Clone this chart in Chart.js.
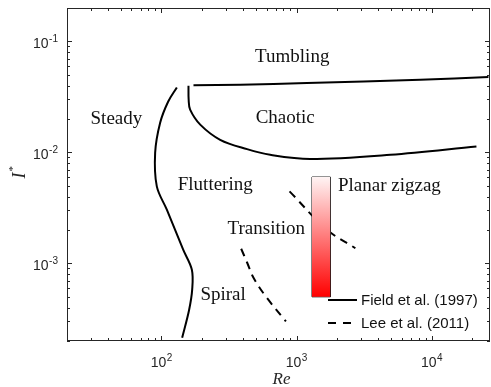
<!DOCTYPE html>
<html>
<head>
<meta charset="utf-8">
<script src="https://cdn.jsdelivr.net/npm/chart.js@4.4.0/dist/chart.umd.min.js"></script>
<style>
html, body { margin: 0; padding: 0; background: #fff; }
#wrap { width: 491px; height: 387px; }
</style>
</head>
<body>
<div id="wrap"><canvas id="regime"></canvas></div>
<script>
// Field et al. (1997) regime boundaries
const steadyRe = [130, 112, 97.8, 89.8, 92.4, 109.6, 144.8, 167.9, 168.8, 160.3, 142.3];
const steadyI = [0.0385, 0.0286, 0.0185, 0.0099, 0.00494, 0.00305, 0.00133, 0.000877, 0.00058, 0.000383, 0.000214];
const chaoticRe = [158.5, 159, 163, 193.6, 272, 430, 638, 1262, 4943, 21430];
const chaoticI = [0.0399, 0.0298, 0.0243, 0.0178, 0.013, 0.0107, 0.00952, 0.00873, 0.00952, 0.0113];
const tumblingRe = [172.6, 383, 1194, 8240, 26300];
const tumblingI = [0.0402, 0.0407, 0.0422, 0.0452, 0.0478];

// Lee et al. (2011) boundaries
const spiralRe = [389, 431, 480, 586, 834];
const spiralI = [0.001355, 0.001014, 0.000743, 0.000512, 0.0003];
const transitionRe = [887, 1679, 2723];
const transitionI = [0.00446, 0.00201, 0.00137];

// planar zigzag band
const zigzagRe = [1300, 1780];
const zigzagI = [0.0005, 0.006];

// region names
const regionNames = ["Tumbling", "Chaotic", "Steady", "Fluttering", "Transition", "Spiral", "Planar zigzag"];
const regionRe = [929, 824, 46.4, 250, 597, 286, 4863];
const regionI = [0.0728, 0.0203, 0.0201, 0.00512, 0.00206, 0.000522, 0.00501];

// axes
const reRange = [20, 27000];
const iRange = [0.0002, 0.2];
const reTickExps = [2, 3, 4];
const iTickExps = [-3, -2, -1];

const legendLabels = ["Field et al. (1997)", "Lee et al. (2011)"];

const FRAME = "#262626";
const DASH = [8, 6];

const pts = (xs, ys) => xs.map((x, i) => ({ x: x, y: ys[i] }));

function curve(label, xs, ys, dashed) {
	return {
		label: label,
		data: pts(xs, ys),
		borderColor: "#000",
		borderWidth: 2,
		borderDash: dashed ? DASH : [],
		pointRadius: 0,
		tension: 0.35,
		fill: false,
	};
}

function zigzagGradient(ctx) {
	const chart = ctx.chart;
	if (!chart.chartArea) return "rgba(255,0,0,0.5)";
	const y = chart.scales.y;
	const top = y.getPixelForValue(zigzagI[1]);
	const bot = y.getPixelForValue(zigzagI[0]);
	const g = chart.ctx.createLinearGradient(0, top, 0, bot);
	g.addColorStop(0, "#fff4f4");
	g.addColorStop(1, "#ff0000");
	return g;
}

function drawSupLabel(ctx, base, sup, x, y, align) {
	ctx.font = '14px "Liberation Sans"';
	const wb = ctx.measureText(base).width;
	ctx.font = '10px "Liberation Sans"';
	const ws = ctx.measureText(sup).width;
	const total = wb + ws + 0.5;
	let left = align === "center" ? x - total / 2 : x - total;
	ctx.textAlign = "left";
	ctx.textBaseline = "alphabetic";
	ctx.font = '14px "Liberation Sans"';
	ctx.fillText(base, left, y);
	ctx.font = '10px "Liberation Sans"';
	ctx.fillText(sup, left + wb + 0.5, y - 6);
}

const axesPlugin = {
	id: "matlabAxes",
	afterDatasetsDraw(chart) {
		const { ctx, scales } = chart;
		ctx.save();
		ctx.fillStyle = "#111";
		ctx.font = '19px "Liberation Serif"';
		ctx.textAlign = "center";
		ctx.textBaseline = "middle";
		regionNames.forEach((name, i) => {
			ctx.fillText(name, scales.x.getPixelForValue(regionRe[i]), scales.y.getPixelForValue(regionI[i]));
		});
		ctx.restore();
	},
	afterDraw(chart) {
		const { ctx, chartArea: a, scales } = chart;
		const x = scales.x, y = scales.y;
		ctx.save();
		ctx.strokeStyle = FRAME;
		ctx.lineWidth = 1;
		ctx.strokeRect(a.left + 0.5, a.top + 0.5, a.right - a.left - 1, a.bottom - a.top - 1);

		ctx.beginPath();
		// x ticks, bottom and top
		for (let d = 10; d <= 10000; d *= 10) {
			for (let m = 1; m <= 9; m++) {
				const v = m * d;
				if (v < reRange[0] || v > reRange[1]) continue;
				const px = Math.round(x.getPixelForValue(v)) + 0.5;
				const len = m === 1 ? 5 : 3;
				ctx.moveTo(px, a.bottom);
				ctx.lineTo(px, a.bottom - len);
				ctx.moveTo(px, a.top);
				ctx.lineTo(px, a.top + len);
			}
		}
		// y ticks, left and right
		for (let d = 0.0001; d <= 0.1; d *= 10) {
			for (let m = 1; m <= 9; m++) {
				const v = m * d;
				if (v < iRange[0] * 0.999 || v > iRange[1] * 1.001) continue;
				const py = Math.round(y.getPixelForValue(v)) + 0.5;
				const len = m === 1 ? 5 : 3;
				ctx.moveTo(a.left, py);
				ctx.lineTo(a.left + len, py);
				ctx.moveTo(a.right, py);
				ctx.lineTo(a.right - len, py);
			}
		}
		ctx.stroke();

		// tick labels
		ctx.fillStyle = FRAME;
		reTickExps.forEach(e => {
			drawSupLabel(ctx, "10", String(e), x.getPixelForValue(Math.pow(10, e)), a.bottom + 26, "center");
		});
		iTickExps.forEach(e => {
			drawSupLabel(ctx, "10", String(e), a.left - 9, y.getPixelForValue(Math.pow(10, e)) + 7, "right");
		});

		// axis titles
		ctx.fillStyle = "#262626";
		ctx.font = 'italic 17px "Liberation Serif"';
		ctx.textAlign = "center";
		ctx.textBaseline = "alphabetic";
		ctx.fillText("Re", (a.left + a.right) / 2 + 3, a.bottom + 43);

		ctx.save();
		ctx.translate(25, (a.top + a.bottom) / 2);
		ctx.rotate(-Math.PI / 2);
		ctx.textAlign = "left";
		ctx.font = 'italic 18px "Liberation Serif"';
		ctx.fillText("I", -4, 0);
		ctx.font = '11px "Liberation Serif"';
		ctx.fillText("*", 3, -9);
		ctx.restore();

		// legend
		const lx = a.right - 162, ly = a.bottom - 41;
		ctx.strokeStyle = "#000";
		ctx.lineWidth = 2;
		ctx.beginPath();
		ctx.moveTo(lx, ly);
		ctx.lineTo(lx + 29, ly);
		ctx.stroke();
		ctx.setLineDash([8, 7]);
		ctx.beginPath();
		ctx.moveTo(lx, ly + 23);
		ctx.lineTo(lx + 24, ly + 23);
		ctx.stroke();
		ctx.setLineDash([]);
		ctx.fillStyle = "#111";
		ctx.font = '15px "Liberation Sans"';
		ctx.textAlign = "left";
		ctx.textBaseline = "middle";
		ctx.fillText(legendLabels[0], lx + 33, ly + 1);
		ctx.fillText(legendLabels[1], lx + 33, ly + 24);
		ctx.restore();
	},
};

new Chart(document.getElementById("regime"), {
	type: "line",
	data: {
		datasets: [
			{
				label: "zigzag band",
				data: pts(zigzagRe, [zigzagI[1], zigzagI[1]]),
				borderWidth: 0,
				pointRadius: 0,
				tension: 0,
				fill: { value: zigzagI[0] },
				backgroundColor: zigzagGradient,
			},
			{
				label: "zigzag outline",
				data: pts([zigzagRe[0], zigzagRe[0], zigzagRe[1], zigzagRe[1], zigzagRe[0]],
					[zigzagI[0], zigzagI[1], zigzagI[1], zigzagI[0], zigzagI[0]]),
				borderColor: "#1a1a1a",
				borderWidth: 1,
				pointRadius: 0,
				tension: 0,
				fill: false,
			},
			curve(legendLabels[0], steadyRe, steadyI, false),
			curve(legendLabels[0], chaoticRe, chaoticI, false),
			curve(legendLabels[0], tumblingRe, tumblingI, false),
			curve(legendLabels[1], spiralRe, spiralI, true),
			curve(legendLabels[1], transitionRe, transitionI, true),
		],
	},
	options: {
		responsive: true,
		maintainAspectRatio: false,
		animation: false,
		layout: { padding: { left: 67, right: 1, top: 8, bottom: 46 } },
		plugins: {
			legend: { display: false },
			tooltip: { enabled: false },
		},
		scales: {
			x: {
				type: "logarithmic",
				min: reRange[0],
				max: reRange[1],
				ticks: { display: false },
				grid: { display: false },
				border: { display: false },
				afterFit: s => { s.height = 0; },
			},
			y: {
				type: "logarithmic",
				min: iRange[0],
				max: iRange[1],
				ticks: { display: false },
				grid: { display: false },
				border: { display: false },
				afterFit: s => { s.width = 0; },
			},
		},
	},
	plugins: [axesPlugin],
});
</script>
</body>
</html>
